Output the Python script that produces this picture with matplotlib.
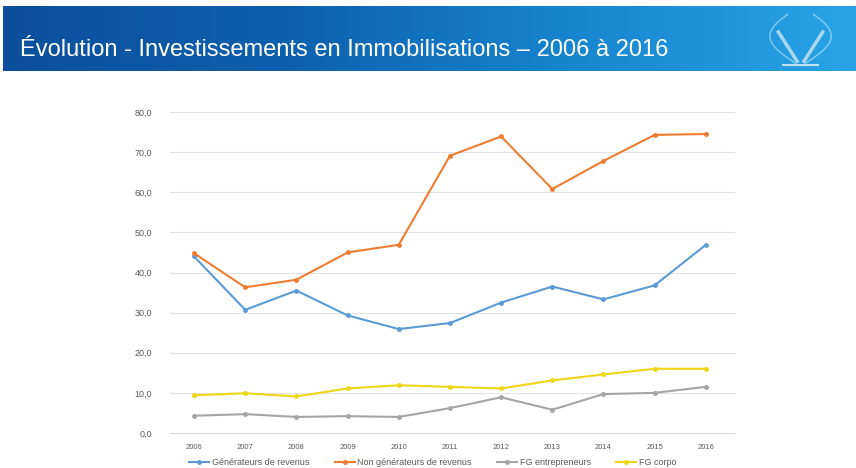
import numpy as np
import matplotlib
import matplotlib.pyplot as plt
from matplotlib.colors import LinearSegmentedColormap

matplotlib.use('Agg')
plt.rcParams['font.family'] = ['Liberation Sans', 'DejaVu Sans']

years = ['2006', '2007', '2008', '2009', '2010', '2011', '2012', '2013', '2014', '2015', '2016']
generateurs = [44.0, 30.7, 35.5, 29.3, 25.9, 27.4, 32.5, 36.5, 33.3, 36.8, 46.9]
non_generateurs = [44.8, 36.3, 38.2, 45.0, 46.9, 69.1, 73.9, 60.8, 67.8, 74.3, 74.5]
fg_entrepreneurs = [4.3, 4.7, 4.0, 4.2, 4.0, 6.2, 8.9, 5.8, 9.7, 10.0, 11.5]
fg_corpo = [9.4, 9.9, 9.1, 11.1, 11.9, 11.5, 11.1, 13.1, 14.6, 16.0, 16.0]

series = [
    ("Générateurs de revenus", generateurs, '#5B9BD5'),
    ("Non générateurs de revenus", non_generateurs, '#ED7D31'),
    ("FG entrepreneurs", fg_entrepreneurs, '#A5A5A5'),
    ("FG corpo", fg_corpo, '#F0D514'),
]

fig = plt.figure(figsize=(8.56, 4.68), dpi=100)

# bandeau bleu en haut
ban = fig.add_axes([3 / 856, 1 - 71 / 468, 1 - 3 / 856, 65 / 468])
grad = np.linspace(0, 1, 256).reshape(1, -1)
cmap = LinearSegmentedColormap.from_list('ban', ['#0B4F9C', '#0E60AE', '#1786CF', '#2AA3E6'])
ban.imshow(grad, aspect='auto', cmap=cmap, extent=[0, 1, 0, 1])
ban.set_xlim(0, 1)
ban.set_ylim(0, 1)
ban.axis('off')
ban.text(17 / 853, 0.33, "Évolution - Investissements en Immobilisations – 2006 à 2016",
         color='white', fontsize=17, va='center', ha='left')

# petit logo (ailes)
t = np.linspace(0, 1, 40)
for s in (-1, 1):
    xs = 0.935 + s * (0.006 + 0.03 * np.sin(t * np.pi * 0.9))
    ys = 0.12 + 0.75 * t
    ban.plot(xs, ys, color='#BFEFFF', lw=1.0, alpha=0.6)
    ban.plot(0.935 + s * (0.004 + 0.022 * t), 0.15 + 0.45 * t, color='white', lw=2.5, alpha=0.6)
ban.plot([0.915, 0.955], [0.1, 0.1], color='white', lw=1.5, alpha=0.7)

ax = fig.add_axes([170 / 856, 1 - 433 / 468, 565 / 856, 321 / 468])
x = np.arange(len(years))
for label, vals, col in series:
    ax.plot(x, vals, color=col, lw=1.5, marker='o', ms=2.5, label=label)

ax.set_ylim(0, 80)
ax.set_xlim(-0.47, 10.57)
ax.set_yticks(np.arange(0, 81, 10))
ax.set_yticklabels([f"{v:.1f}".replace('.', ',') for v in np.arange(0, 81, 10)])
ax.set_xticks(x)
ax.set_xticklabels(years)
ax.tick_params(length=0, colors='#595959')
ax.tick_params(axis='y', labelsize=6.5, pad=13)
ax.tick_params(axis='x', labelsize=5.5, pad=8)
ax.grid(axis='y', color='#E3E3E3', lw=0.8)
ax.set_axisbelow(True)
for sp in ax.spines.values():
    sp.set_visible(False)
ax.spines['bottom'].set_visible(True)
ax.spines['bottom'].set_color('#D9D9D9')

ax.legend(loc='upper center', bbox_to_anchor=(0.465, -0.052), ncol=4, frameon=False,
          fontsize=6.5, handlelength=2.2, handletextpad=0.3, columnspacing=2.8,
          labelcolor='#595959')

fig.savefig('out.png', dpi=100)
